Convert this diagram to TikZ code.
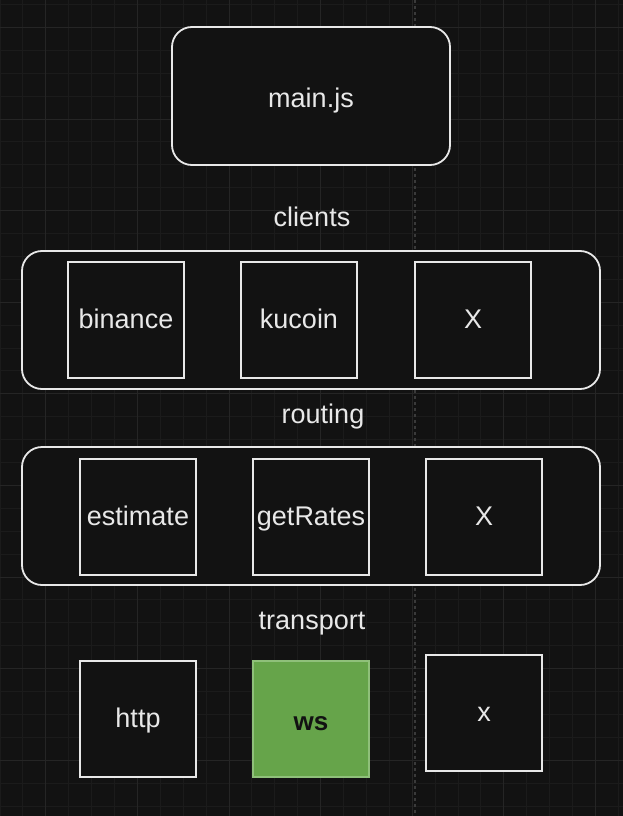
\documentclass[tikz,border=0pt]{standalone}
\usepackage{fontspec}
\setmainfont{Liberation Sans}
\usepackage{tikz}
\usetikzlibrary{positioning}
\definecolor{canvas}{HTML}{121212}
\definecolor{gridminor}{HTML}{1B1B1B}
\definecolor{gridmajor}{HTML}{252525}
\definecolor{edge}{HTML}{E8E8E8}
\definecolor{guide}{HTML}{3A3A3A}
\definecolor{wsfill}{HTML}{66A44A}
\definecolor{wsedge}{HTML}{8FC07A}
\tikzset{panel/.style = {draw=edge, fill=canvas, line width=1.8pt, rounded corners=20pt,
                         inner sep=0pt},
         module/.style = {draw=edge, fill=canvas, line width=1.8pt, minimum size=116pt,
                          inner sep=0pt, text=edge, font=\fontsize{27}{31}\selectfont,
                          text height=22.5pt, text depth=5.7pt},
         caption/.style = {text=edge, font=\fontsize{27}{31}\selectfont,
                           inner sep=0pt, text height=22.5pt, text depth=5.7pt}}

\begin{document}
\begin{tikzpicture}[x=1pt, y=-1pt]
  \useasboundingbox (0,0) rectangle (623,816);
  \fill[canvas] (0,0) rectangle (623,816);
  % grid
  \foreach \i in {0,...,27} {
    \draw[gridminor, line width=0.8pt] ({-0.1+22.9*\i}, 0) -- ({-0.1+22.9*\i}, 816);
  }
  \foreach \i in {0,...,35} {
    \draw[gridminor, line width=0.8pt] (0, {4.4+22.9*\i}) -- (623, {4.4+22.9*\i});
  }
  \foreach \i in {0,...,6} {
    \draw[gridmajor, line width=0.8pt] ({45.7+91.6*\i}, 0) -- ({45.7+91.6*\i}, 816);
  }
  \foreach \i in {0,...,8} {
    \draw[gridmajor, line width=0.8pt] (0, {27.3+91.6*\i}) -- (623, {27.3+91.6*\i});
  }
  \draw[guide, line width=1.8pt, dash pattern=on 3pt off 3pt] (415,0) -- (415,816);

  \node[panel, minimum width=278pt, minimum height=138pt, text=edge,
        font=\fontsize{27}{31}\selectfont, text height=27pt, text depth=5pt]
        (main) at (311,96) {main.js};

  \node[caption] (clients) at (312,218) {clients};
  \node[panel, minimum width=578pt, minimum height=138pt] (clientsbox) at (311,320) {};
  \node[module] (binance) at (126,320) {binance};
  \node[module] (kucoin) at (299,320) {kucoin};
  \node[module] (clientx) at (473,320) {X};

  \node[caption] (routing) at (323,415) {routing};
  \node[panel, minimum width=578pt, minimum height=138pt] (routingbox) at (311,516) {};
  \node[module] (estimate) at (138,517) {estimate};
  \node[module] (getrates) at (311,517) {getRates};
  \node[module] (routex) at (484,517) {X};

  \node[caption] (transport) at (312,621) {transport};
  \node[module] (http) at (138,719) {http};
  \node[module, draw=wsedge, fill=wsfill, text=canvas,
        font=\fontsize{26}{30}\selectfont\bfseries, text height=26pt, text depth=4pt]
        (ws) at (311,719) {ws};
  \node[module] (transportx) at (484,713) {x};
\end{tikzpicture}
\end{document}
